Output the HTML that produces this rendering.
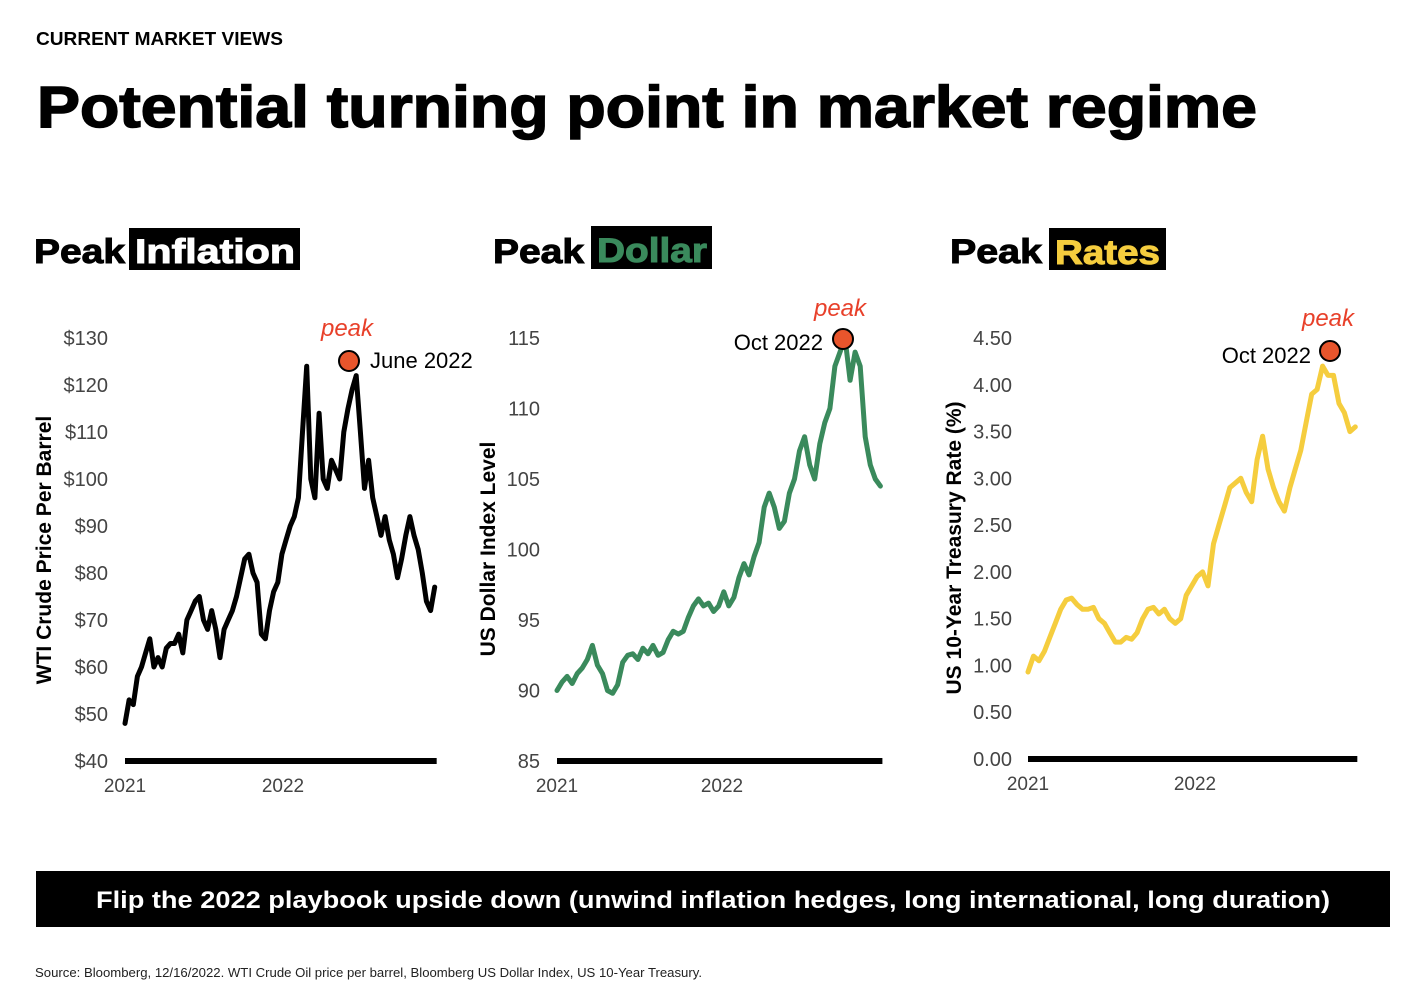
<!DOCTYPE html>
<html><head><meta charset="utf-8"><style>
html,body{margin:0;padding:0;background:#fff;}
svg{display:block;font-family:"Liberation Sans",sans-serif;}
</style></head><body>
<svg id="s" width="1418" height="994" viewBox="0 0 1418 994" xmlns="http://www.w3.org/2000/svg">
<text x="36" y="45" font-size="18" font-weight="bold" fill="#000" textLength="247" lengthAdjust="spacingAndGlyphs">CURRENT MARKET VIEWS</text>
<text x="37" y="127" font-size="58" font-weight="900" fill="#000" stroke="#000" stroke-width="1.5" textLength="1220" lengthAdjust="spacingAndGlyphs">Potential turning point in market regime</text>

<g>
<text x="34" y="263" font-size="34" font-weight="900" stroke="#000" stroke-width="1" textLength="91" lengthAdjust="spacingAndGlyphs">Peak</text>
<rect x="129" y="228" width="171" height="42" fill="#000"/>
<text x="135" y="263" font-size="34" font-weight="900" fill="#fff" stroke="#fff" stroke-width="1" textLength="160" lengthAdjust="spacingAndGlyphs">Inflation</text>
</g>
<g>
<text x="493" y="263" font-size="34" font-weight="900" stroke="#000" stroke-width="1" textLength="91" lengthAdjust="spacingAndGlyphs">Peak</text>
<rect x="591" y="226" width="121" height="43" fill="#000"/>
<text x="597" y="262" font-size="34" font-weight="900" fill="#3a8a5c" stroke="#3a8a5c" stroke-width="1" textLength="110" lengthAdjust="spacingAndGlyphs">Dollar</text>
</g>
<g>
<text x="950" y="263" font-size="34" font-weight="900" stroke="#000" stroke-width="1" textLength="92" lengthAdjust="spacingAndGlyphs">Peak</text>
<rect x="1049" y="228" width="117" height="42" fill="#000"/>
<text x="1055" y="264" font-size="34" font-weight="900" fill="#f5cd3e" stroke="#f5cd3e" stroke-width="1" textLength="105" lengthAdjust="spacingAndGlyphs">Rates</text>
</g>

<g id="charts"></g>

<rect x="36" y="871" width="1354" height="56" fill="#000"/>
<text x="713" y="908" font-size="24" font-weight="bold" fill="#fff" text-anchor="middle" textLength="1234" lengthAdjust="spacingAndGlyphs">Flip the 2022 playbook upside down (unwind inflation hedges, long international, long duration)</text>
<text x="35" y="977" font-size="13" fill="#222" textLength="667" lengthAdjust="spacingAndGlyphs">Source: Bloomberg, 12/16/2022. WTI Crude Oil price per barrel, Bloomberg US Dollar Index, US 10-Year Treasury.</text>
</svg>
<script>
const oilValues=[48,53,52,58,60,63,66,60,62,60,64,65,65,67,63,70,72,74,75,70,68,72,68,62,68,70,72,75,79,83,84,80,78,67,66,72,76,78,84,87,90,92,96,110,124,100,96,114,100,98,104,102,100,110,115,119,122,110,98,104,96,92,88,92,87,84,79,83,88,92,88,85,80,74,72,77];
const dollarValues=[90,90.6,91,90.5,91.2,91.6,92.2,93.2,91.8,91.2,90,89.8,90.4,92,92.5,92.6,92.2,93,92.6,93.2,92.5,92.7,93.6,94.2,94,94.2,95.2,96,96.5,96,96.2,95.6,96,97,96,96.6,98,99,98.2,99.5,100.5,103,104,103,101.5,102,104,105,107,108,106,105,107.5,109,110,113,114,115,112,114,113,108,106,105,104.5];
const rateValues=[0.93,1.1,1.05,1.15,1.3,1.45,1.6,1.7,1.72,1.65,1.6,1.6,1.62,1.5,1.45,1.35,1.25,1.25,1.3,1.28,1.35,1.5,1.6,1.62,1.55,1.6,1.5,1.45,1.5,1.75,1.85,1.95,2.0,1.85,2.3,2.5,2.7,2.9,2.95,3.0,2.85,2.75,3.2,3.45,3.1,2.9,2.75,2.65,2.9,3.1,3.3,3.6,3.9,3.95,4.2,4.1,4.1,3.8,3.7,3.5,3.55];
const oilTicks=["$40","$50","$60","$70","$80","$90","$100","$110","$120","$130"];
const dollarTicks=["85","90","95","100","105","110","115"];
const rateTicks=["0.00","0.50","1.00","1.50","2.00","2.50","3.00","3.50","4.00","4.50"];
const yearLabels=["2021","2022"];
const spanYears=1.96;
const NS="http://www.w3.org/2000/svg";
const root=document.getElementById('charts');
function el(tag,attrs,parent){const e=document.createElementNS(NS,tag);for(const k in attrs)e.setAttribute(k,attrs[k]);(parent||root).appendChild(e);return e;}
function chart(cfg){
  const g=el('g',{});
  
  
  const x=t=>cfg.x0+(cfg.x1-cfg.x0)*t;
  const y=v=>cfg.yb-(v-cfg.vmin)/(cfg.vmax-cfg.vmin)*(cfg.yb-cfg.yt);
  cfg.ticks.forEach((lab,i)=>{const v=cfg.vmin+i*cfg.step;
    const t=el('text',{x:cfg.tx,y:y(v)+7,'font-size':20,fill:'#444','text-anchor':'end'},g);t.textContent=lab;
    
    });
  yearLabels.forEach((lab,i)=>{const t=el('text',{x:x(i),y:cfg.yb+31,'font-size':19,fill:'#444','text-anchor':'middle'},g);t.textContent=lab;
    
    });
  const ax=el('rect',{x:cfg.x0,y:cfg.yb-3,width:x(spanYears)-cfg.x0+2,height:6,fill:'#000'},g);
  
  
  const yl=el('text',{x:0,y:0,'font-size':21,'font-weight':'bold',fill:'#000','text-anchor':'middle',transform:`translate(${cfg.lx},${cfg.ly}) rotate(-90)`},g);
  yl.textContent=cfg.label;
  
  
  const n=cfg.vals.length;
  const d=cfg.vals.map((v,i)=>(i?'L':'M')+x(i/(n-1)*spanYears).toFixed(1)+' '+y(v).toFixed(1)).join(' ');
  const p=el('path',{d:d,fill:'none',stroke:cfg.color,'stroke-width':5,'stroke-linejoin':'round','stroke-linecap':'round'},g);
  
  
  const c=el('circle',{cx:cfg.px,cy:cfg.py,r:10,fill:'#e8552c',stroke:'#000','stroke-width':2},g);
  
  
  const pk=el('text',{x:cfg.pkx,y:cfg.pky,'font-size':24,'font-style':'italic',fill:'#e8402a','text-anchor':'middle'},g);pk.textContent='peak';
  
  
  const dl=el('text',{x:cfg.dx,y:cfg.dy,'font-size':22,fill:'#000','text-anchor':cfg.da},g);dl.textContent=cfg.date;
  
  
}
chart({name:'oil-chart',vals:oilValues,ticks:oilTicks,vmin:40,vmax:130,step:10,x0:125,x1:283,yb:761,yt:338,tx:108,lx:51,ly:550,label:'WTI Crude Price Per Barrel',color:'#000',px:349,py:361,pkx:347,pky:336,dx:370,dy:368,da:'start',date:'June 2022'});
chart({name:'dollar-chart',vals:dollarValues,ticks:dollarTicks,vmin:85,vmax:115,step:5,x0:557,x1:722,yb:761,yt:338,tx:540,lx:495,ly:549,label:'US Dollar Index Level',color:'#3a8a5c',px:843,py:339,pkx:840,pky:316,dx:823,dy:350,da:'end',date:'Oct 2022'});
chart({name:'rates-chart',vals:rateValues,ticks:rateTicks,vmin:0,vmax:4.5,step:0.5,x0:1028,x1:1195,yb:759,yt:338,tx:1012,lx:961,ly:548,label:'US 10-Year Treasury Rate (%)',color:'#f5cd3e',px:1330,py:351,pkx:1328,pky:326,dx:1311,dy:363,da:'end',date:'Oct 2022'});
</script>
</body></html>
